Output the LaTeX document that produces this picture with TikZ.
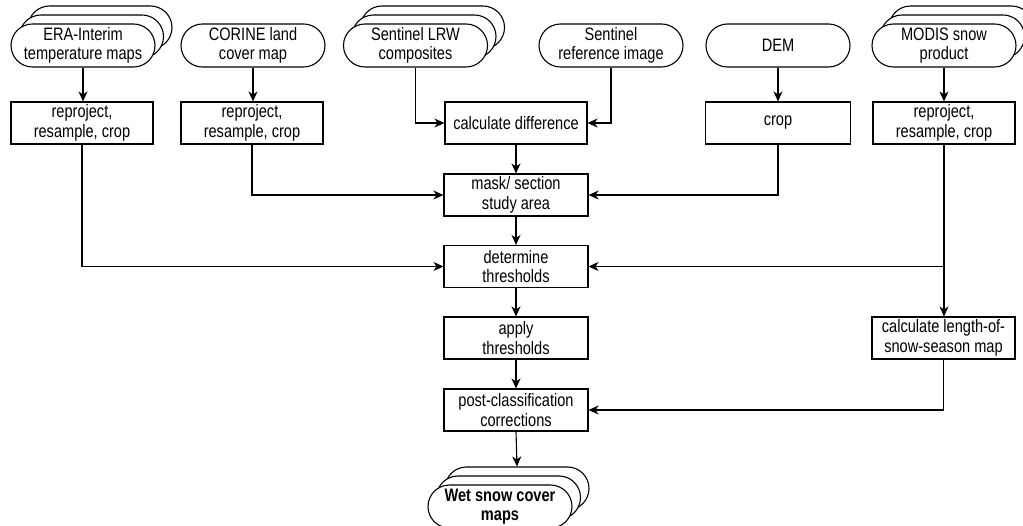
\documentclass[tikz,border=0pt]{standalone}
\usepackage{fontspec}
\setmainfont{Liberation Sans}[FakeStretch=0.81]
\usetikzlibrary{arrows.meta}
\begin{document}
\begin{tikzpicture}[x=1pt,y=-1pt,
  every node/.style={font=\fontsize{18}{19.5}\selectfont},
  term/.style={draw, fill=white, rounded corners=21.5pt, minimum width=144pt, minimum height=43pt, inner sep=1pt, align=center, line width=1.1pt},
  proc/.style={draw, fill=white, minimum width=142pt, minimum height=42pt, inner sep=1pt, align=center, line width=1.1pt},
  flow/.style={-{Stealth[length=10pt,width=9pt,inset=3pt]}, line width=1.1pt}]
\clip (0,0) rectangle (1023,526);
\useasboundingbox (0,0) rectangle (1023,526);
% ERA stack
\node[term] (era3) at (100,27.5) {};
\node[term] (era2) at (91.5,36.5) {};
\node[term] (era) at (83,45.5) {ERA-Interim\\temperature maps};
\node[term] (corine) at (253,45.5) {CORINE land\\cover map};
% Sentinel LRW stack
\node[term] (lrw3) at (432.5,27.5) {};
\node[term] (lrw2) at (424,36.5) {};
\node[term] (lrw) at (415.5,45.5) {Sentinel LRW\\composites};
\node[term] (ref) at (611,45.5) {Sentinel\\reference image};
\node[term] (dem) at (778,45.5) {DEM};
% MODIS stack
\node[term] (modis3) at (961,27.5) {};
\node[term] (modis2) at (952.5,36.5) {};
\node[term] (modis) at (944,45.5) {MODIS snow\\product};
% processes
\node[proc] (erap) at (82,123) {reproject,\\resample, crop};
\node[proc] (corp) at (252,123) {reproject,\\resample, crop};
\node[proc] (calc) at (516,123) {calculate difference};
\node[proc, minimum width=145pt] (crop) at (778,123) {crop};
\node[proc] (modp) at (944,123) {reproject,\\resample, crop};
\node[proc, minimum width=144pt] (mask) at (516,195) {mask/ section\\study area};
\node[proc, minimum width=144pt] (det) at (516,266.5) {determine\\thresholds};
\node[proc, minimum width=144pt] (apply) at (516,338) {apply\\thresholds};
\node[proc, minimum width=143pt] (len) at (943.5,338) {calculate length-of-\\snow-season map};
\node[proc, minimum width=144pt] (post) at (516,410) {post-classification\\corrections};
% Wet snow stack
\node[term] (wet3) at (517,488.5) {};
\node[term] (wet2) at (508.5,497.5) {};
\node[term, font=\fontsize{18}{19.5}\selectfont\bfseries] (wet) at (500,506.5) {Wet snow cover\\maps};
% connectors
\draw[flow] (era.south) -- (era.south |- erap.north);
\draw[flow] (corine.south) -- (corine.south |- corp.north);
\draw[flow] (lrw.south) |- (calc.west);
\draw[flow] (ref.south) |- (calc.east);
\draw[flow] (dem.south) -- (crop.north);
\draw[flow] (modis.south) -- (modis.south |- modp.north);
\draw[flow] (calc.south) -- (mask.north);
\draw[flow] (corp.south) |- (mask.west);
\draw[flow] (crop.south) |- (mask.east);
\draw[flow] (mask.south) -- (det.north);
\draw[flow] (erap.south) |- (det.west);
\coordinate (jn) at (modp.south |- det.east);
\draw[flow] (modp.south) -- (modp.south |- len.north);
\draw[flow] (jn) -- (det.east);
\draw[flow] (det.south) -- (apply.north);
\draw[flow] (apply.south) -- (post.north);
\draw[flow] (len.south) |- (post.east);
\draw[flow] (post.south) -- (wet3.north);
\end{tikzpicture}
\end{document}
